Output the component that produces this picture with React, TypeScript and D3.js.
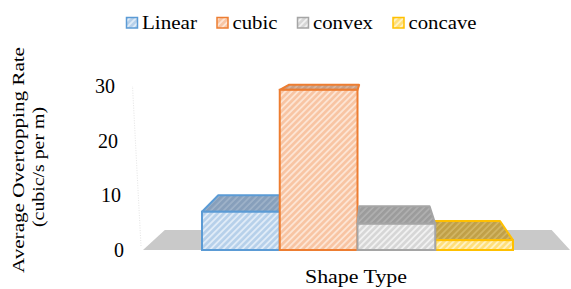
import React from 'react';
import * as d3 from 'd3';

// chart data
const category = 'Shape Type';
const series = ['Linear', 'cubic', 'convex', 'concave'];
const values = [7.0, 29.3, 4.8, 1.8];
const yTicks = [0, 10, 20, 30];

const strokeColors = ['#5b9bd5', '#ed7d31', '#a5a5a5', '#ffc000'];
const frontFill = [
  { bg: '#b6d0ea', stripe: '#e2edf8' },
  { bg: '#f8c4a2', stripe: '#fde6d6' },
  { bg: '#d6d6d6', stripe: '#f3f3f3' },
  { bg: '#ffdf78', stripe: '#fff3c6' },
];
const topFill = [
  { bg: '#879fbb', stripe: '#a1b4ca' },
  { bg: '#c99f86', stripe: '#dab59f' },
  { bg: '#9c9c9c', stripe: '#b3b3b3' },
  { bg: '#c0a048', stripe: '#d5b968' },
];

const W = 571;
const H = 289;
const VP = { x: 375, y: 37 }; // perspective vanishing point
const DEPTH = 0.094;

const back = (x: number, y: number): [number, number] => [
  x + DEPTH * (VP.x - x),
  y + DEPTH * (VP.y - y),
];

const pts = (p: [number, number][]) => p.map(d => d.join(',')).join(' ');

const App: React.FC = () => {
  const y = d3.scaleLinear().domain([0, 30]).range([250, 86]);
  const floor = d3.scaleBand<string>().domain([category]).range([143, 570]);
  const x = d3.scaleBand<string>().domain(series).range([202, 513]).padding(0);

  const fx0 = floor(category)!;
  const fx1 = fx0 + floor.bandwidth();
  const y0 = y(0);

  // draw far bars first
  const order = series
    .map((s, i) => i)
    .sort((a, b) => {
      const ca = x(series[a])! + x.bandwidth() / 2;
      const cb = x(series[b])! + x.bandwidth() / 2;
      return Math.abs(cb - VP.x) - Math.abs(ca - VP.x);
    });

  // legend layout
  const legendLen = [55, 45, 60, 68];
  let lx = 126;
  const legendPos = legendLen.map(len => {
    const p = lx;
    lx += 16 + len + 19.5;
    return p;
  });

  return (
    <svg width={W} height={H}
      style={{ position: 'absolute', left: 0, top: 0, background: '#fff', fontFamily: 'Liberation Serif, serif' }}>
      <defs>
        {series.map((s, i) => (
          <React.Fragment key={s}>
            <pattern id={`front-${i}`} patternUnits="userSpaceOnUse" width={4.5} height={4.5}
              patternTransform="rotate(45)">
              <rect width={4.5} height={4.5} fill={frontFill[i].bg} />
              <line x1={1} y1={0} x2={1} y2={4.5} stroke={frontFill[i].stripe} strokeWidth={1.8} />
            </pattern>
            <pattern id={`top-${i}`} patternUnits="userSpaceOnUse" width={4.5} height={4.5}
              patternTransform="rotate(45)">
              <rect width={4.5} height={4.5} fill={topFill[i].bg} />
              <line x1={1} y1={0} x2={1} y2={4.5} stroke={topFill[i].stripe} strokeWidth={1.5} />
            </pattern>
          </React.Fragment>
        ))}
      </defs>

      {/* legend */}
      {series.map((s, i) => (
        <g key={s}>
          <rect x={legendPos[i] + 0.5} y={17.5} width={11} height={10.5}
            fill={`url(#front-${i})`} stroke={strokeColors[i]} strokeWidth={1.5} />
          <text x={legendPos[i] + 16} y={29} fontSize={19.5} textLength={legendLen[i]}
            lengthAdjust="spacingAndGlyphs">{s}</text>
        </g>
      ))}

      {/* axis title */}
      <text transform="translate(24,160) rotate(-90)" textAnchor="middle" fontSize={17.5}
        textLength={226} lengthAdjust="spacingAndGlyphs">Average Overtopping Rate</text>
      <text transform="translate(44,167) rotate(-90)" textAnchor="middle" fontSize={17.5}
        textLength={120} lengthAdjust="spacingAndGlyphs">(cubic/s per m)</text>

      {/* faint value axis */}
      <line x1={141} y1={y(0) - 4} x2={132.5} y2={y(30)} stroke="#e4e4e4" strokeWidth={1}
        strokeDasharray="1,1.5" />

      {/* tick labels, slanted with the perspective */}
      {yTicks.map(t => (
        <text key={t} x={124 - (y0 - y(t)) * 0.055} y={y(t) + 7} textAnchor="end" fontSize={20}>
          {t}
        </text>
      ))}

      {/* floor */}
      <polygon
        points={pts([[fx0, y0], [fx1, y0], back(fx1, y0), back(fx0, y0)])}
        fill="#c9c9c9"
      />

      {/* bars */}
      {order.map(i => {
        const s = series[i];
        const x0 = x(s)!;
        const x1 = x0 + x.bandwidth();
        const yt = y(values[i]);
        const topPts: [number, number][] = [[x0, yt], [x1, yt], back(x1, yt), back(x0, yt)];
        return (
          <g key={s}>
            <polygon points={pts(topPts)} fill={`url(#top-${i})`} stroke={strokeColors[i]}
              strokeWidth={2} strokeLinejoin="round" />
            <rect x={x0} y={yt} width={x1 - x0} height={y0 - yt} fill={`url(#front-${i})`}
              stroke={strokeColors[i]} strokeWidth={2} />
          </g>
        );
      })}

      {/* category axis title */}
      <text x={356} y={283} textAnchor="middle" fontSize={18} textLength={102}
        lengthAdjust="spacingAndGlyphs">{category}</text>
    </svg>
  );
};

export default App;
